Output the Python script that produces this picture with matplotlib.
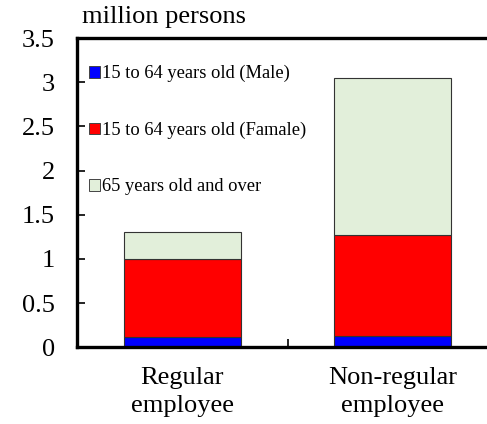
import matplotlib
matplotlib.use("Agg")
import matplotlib.pyplot as plt
from matplotlib.patches import Patch
from matplotlib.ticker import FixedLocator

categories = ["Regular\nemployee", "Non-regular\nemployee"]
male_15_64 = [0.12, 0.13]
female_15_64 = [0.88, 1.14]
age_65_over = [0.30, 1.78]
series_labels = ["15 to 64 years old (Male)",
                 "15 to 64 years old (Famale)",
                 "65 years old and over"]
yticks = [0, 0.5, 1, 1.5, 2, 2.5, 3, 3.5]
ytick_labels = ["0", "0.5", "1", "1.5", "2", "2.5", "3", "3.5"]

colors = ["#0000FF", "#FF0000", "#E2EFDA"]

plt.rcParams["font.family"] = ["Liberation Serif", "DejaVu Serif"]

fig = plt.figure(figsize=(4.87, 4.24), dpi=100)
ax = fig.add_axes([0.158, 0.181, 0.865, 0.729])

x = list(range(len(categories)))
width = 0.555
bottom = [0.0] * len(categories)
for vals, col in zip([male_15_64, female_15_64, age_65_over], colors):
    ax.bar(x, vals, width=width, bottom=bottom, color=col,
           edgecolor="#333333", linewidth=0.8, zorder=2)
    bottom = [b + v for b, v in zip(bottom, vals)]

ax.set_xlim(-0.5, 1.5)
ax.set_ylim(0, 3.5)
ax.set_yticks(yticks)
ax.set_yticklabels(ytick_labels)
ax.set_xticks(x)
ax.set_xticklabels(categories, linespacing=1.38)
ax.xaxis.set_minor_locator(FixedLocator([0.5]))

ax.tick_params(axis="y", direction="in", length=6, width=1.2,
               labelsize=19, pad=16)
ax.tick_params(axis="x", which="major", length=0, labelsize=19, pad=14)
ax.tick_params(axis="x", which="minor", direction="in", length=6, width=1.2)

for side in ["left", "top", "bottom", "right"]:
    ax.spines[side].set_linewidth(2.4)
    ax.spines[side].set_color("black")

handles = [Patch(facecolor=c, edgecolor="#444444", linewidth=0.7) for c in colors]
ax.legend(handles, series_labels, loc="upper left", frameon=False,
          fontsize=13.3, handlelength=0.6, handleheight=0.6,
          handletextpad=0.15, labelspacing=2.13,
          bbox_to_anchor=(-0.003, 0.955), borderaxespad=0.3)

fig.text(82 / 487, 1 - 23 / 424, "million persons", fontsize=19,
         ha="left", va="baseline")

fig.savefig("out.png", dpi=100)
